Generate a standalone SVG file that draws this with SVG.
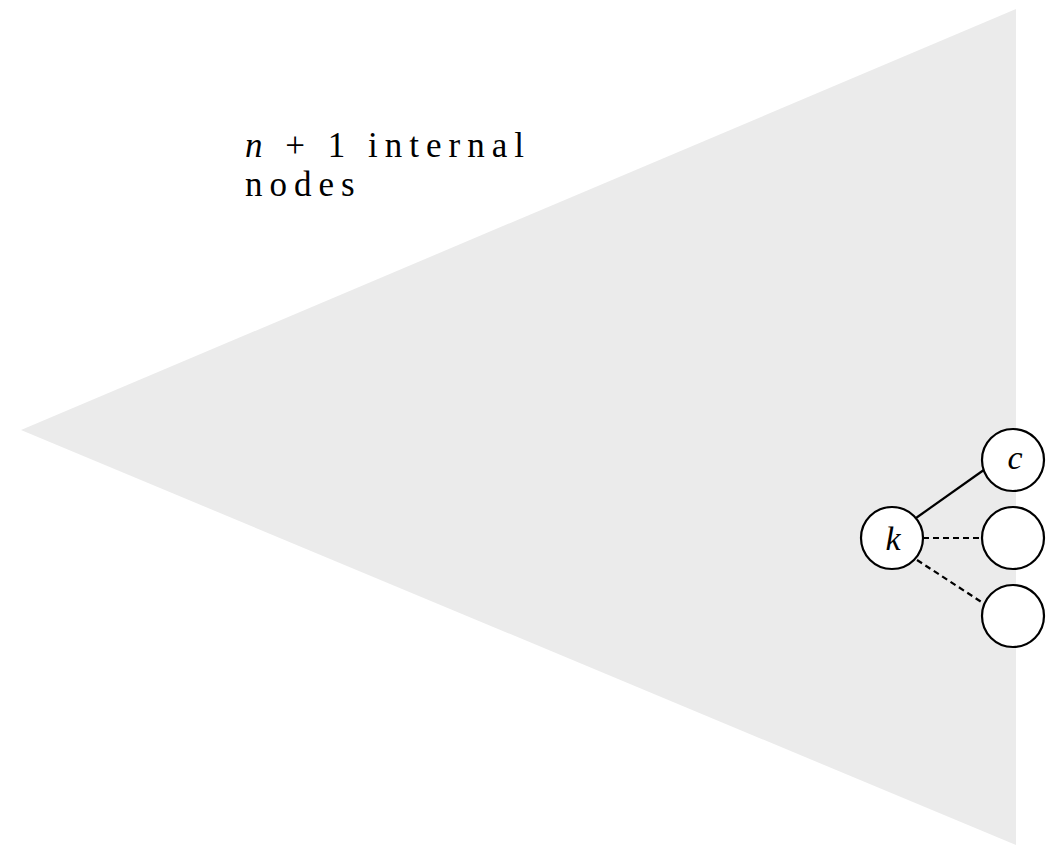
<svg xmlns="http://www.w3.org/2000/svg" width="1054" height="846" viewBox="0 0 1054 846">
<style>
.node{fill:#fff;stroke:#000;stroke-width:2.2}
.lbl{font-family:"Liberation Serif",serif;font-style:italic;font-size:34px;text-anchor:middle}
.txt{font-family:"Liberation Serif",serif;font-size:35px;letter-spacing:7px}
.edge{stroke:#000;stroke-width:2.2;fill:none}
.dash{stroke-dasharray:6,4}
</style>
<rect width="1054" height="846" fill="#fff"/>
<polygon id="tree" points="21,430 1016,9 1016,845" fill="#ebebeb"/>
<g id="caption">
<text class="txt" x="245" y="157"><tspan font-style="italic">n</tspan> + 1 internal</text>
<text class="txt" x="245" y="196">nodes</text>
</g>
<g id="connectors">
<line class="edge" x1="916" y1="518" x2="988" y2="467"/>
<line class="edge dash" x1="923" y1="538" x2="982" y2="538"/>
<line class="edge dash" x1="917" y1="560" x2="983" y2="603"/>
</g>
<g id="node-k"><circle class="node" cx="892" cy="538" r="31"/><text class="lbl" x="893" y="550">k</text></g>
<g id="node-c"><circle class="node" cx="1013" cy="460" r="31"/><text class="lbl" x="1015" y="469">c</text></g>
<g id="node-m"><circle class="node" cx="1013" cy="538" r="31"/></g>
<g id="node-b"><circle class="node" cx="1013" cy="616" r="31"/></g>
</svg>
